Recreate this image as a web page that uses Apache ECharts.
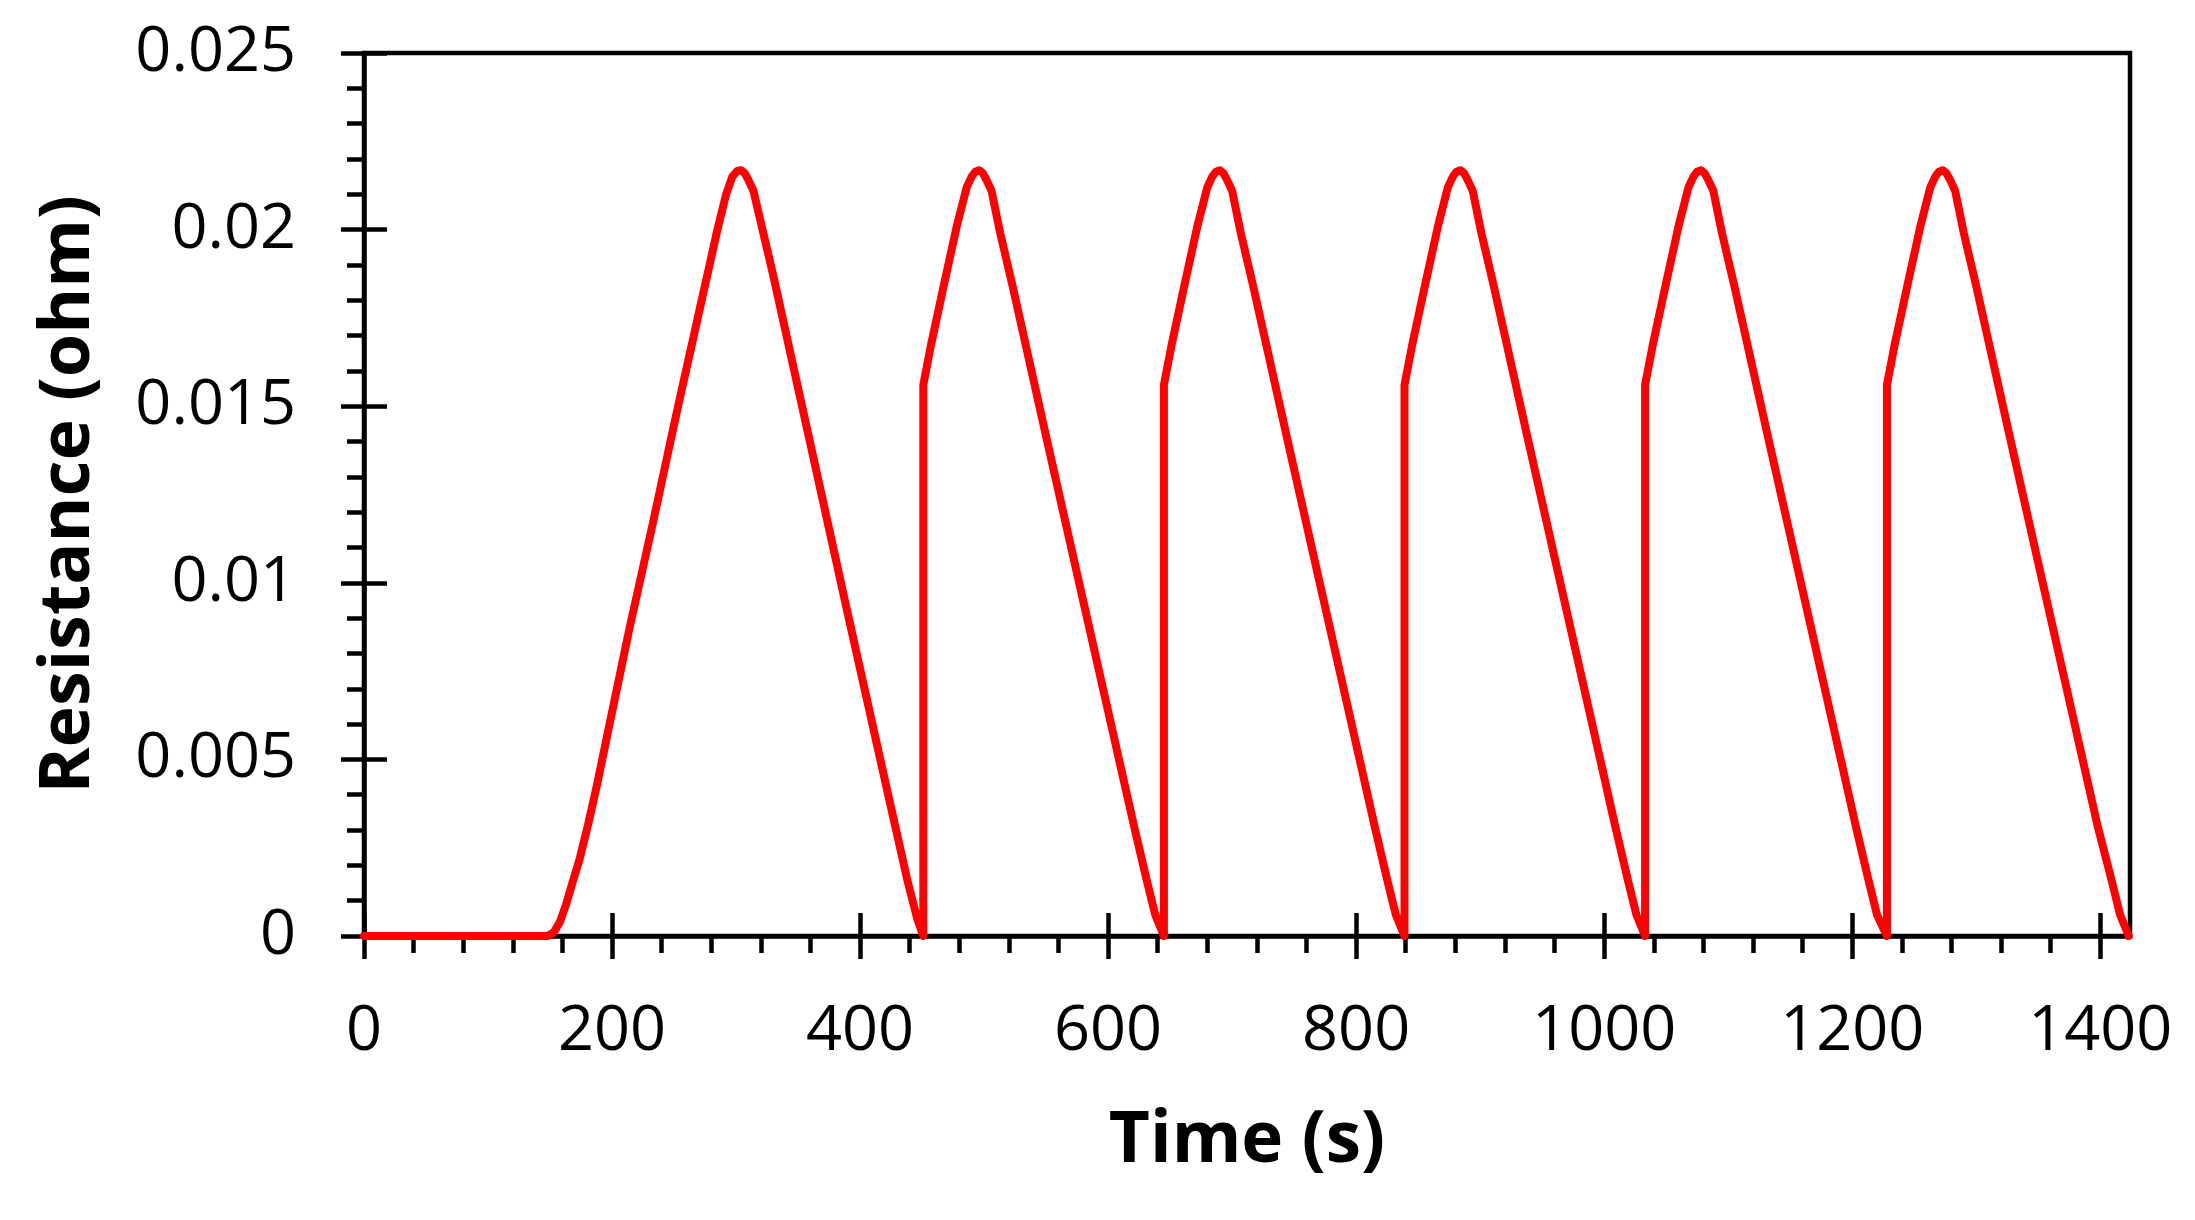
<!DOCTYPE html>
<html>
<head>
<meta charset="utf-8">
<script src="https://cdn.jsdelivr.net/npm/echarts@6/dist/echarts.min.js"></script>
<style>
  html, body { margin: 0; padding: 0; background: #fff; }
  #chart { width: 2195px; height: 1220px; }
</style>
</head>
<body>
<div id="chart"></div>
<script>
// time (s) / resistance (ohm), one block per heating cycle
const cycle1Time = [0, 148, 153, 158, 163, 168, 174, 181, 188, 198, 214, 233, 252, 271, 285, 292, 297, 301, 304, 307, 310, 314, 322, 330, 357, 389, 422, 438, 446, 451]
const cycle1Value = [0, 0, 0.0001, 0.0004, 0.0009, 0.0015, 0.0022, 0.0032, 0.0043, 0.006, 0.0087, 0.0117, 0.0148, 0.0178, 0.02, 0.021, 0.0215, 0.02166, 0.02168, 0.0216, 0.0214, 0.0211, 0.0199, 0.0187, 0.0144, 0.0093, 0.0041, 0.0016, 0.0005, 0]

const cycle2Time = [451, 457, 468, 478, 486, 490, 493, 496, 499, 502, 506, 513, 523, 549, 576, 603, 621, 631, 638, 645]
const cycle3Time = [645, 651, 662, 672, 680, 684, 687, 690, 693, 696, 700, 707, 717, 743, 770, 797, 815, 825, 832, 839]
const cycle4Time = [839, 845, 856, 866, 874, 878, 881, 884, 887, 890, 894, 901, 911, 937, 964, 991, 1009, 1019, 1026, 1033]
const cycle5Time = [1033, 1039, 1050, 1060, 1068, 1072, 1075, 1078, 1081, 1084, 1088, 1095, 1105, 1131, 1158, 1185, 1203, 1213, 1220, 1228]
const cycle6Time = [1228, 1234, 1245, 1255, 1263, 1267, 1270, 1273, 1276, 1279, 1283, 1290, 1300, 1326, 1353, 1380, 1398, 1409, 1416, 1423]

const cycle2Value = [0.0156, 0.0167, 0.0185, 0.0201, 0.0212, 0.0215, 0.02164, 0.02168, 0.0216, 0.0214, 0.0211, 0.0199, 0.0184, 0.0143, 0.0101, 0.0059, 0.0031, 0.0016, 0.0006, 0]
const cycle3Value = [0.0156, 0.0167, 0.0185, 0.0201, 0.0212, 0.0215, 0.02164, 0.02168, 0.0216, 0.0214, 0.0211, 0.0199, 0.0184, 0.0143, 0.0101, 0.0059, 0.0031, 0.0016, 0.0006, 0]
const cycle4Value = [0.0156, 0.0167, 0.0185, 0.0201, 0.0212, 0.0215, 0.02164, 0.02168, 0.0216, 0.0214, 0.0211, 0.0199, 0.0184, 0.0143, 0.0101, 0.0059, 0.0031, 0.0016, 0.0006, 0]
const cycle5Value = [0.0156, 0.0167, 0.0185, 0.0201, 0.0212, 0.0215, 0.02164, 0.02168, 0.0216, 0.0214, 0.0211, 0.0199, 0.0184, 0.0143, 0.0101, 0.0059, 0.0031, 0.0016, 0.0006, 0]
const cycle6Value = [0.0156, 0.0167, 0.0185, 0.0201, 0.0212, 0.0215, 0.02164, 0.02168, 0.0216, 0.0214, 0.0211, 0.0199, 0.0184, 0.0143, 0.0101, 0.0059, 0.0031, 0.0016, 0.0006, 0]

// axis ticks
const xMajor = [0, 200, 400, 600, 800, 1000, 1200, 1400]
const xMinor = [40, 80, 120, 160, 240, 280, 320, 360, 440, 480, 520, 560, 640, 680, 720, 760, 840, 880, 920, 960, 1040, 1080, 1120, 1160, 1240, 1280, 1320, 1360]
const yMajor = [0, 0.005, 0.01, 0.015, 0.02, 0.025]
const yMinor = [0.001, 0.002, 0.003, 0.004, 0.006, 0.007, 0.008, 0.009, 0.011, 0.012, 0.013, 0.014, 0.016, 0.017, 0.018, 0.019, 0.021, 0.022, 0.023, 0.024]

const X_MAX = 1424
const Y_MAX = 0.025

const cycles = [
  [cycle1Time, cycle1Value],
  [cycle2Time, cycle2Value],
  [cycle3Time, cycle3Value],
  [cycle4Time, cycle4Value],
  [cycle5Time, cycle5Value],
  [cycle6Time, cycle6Value]
]
const lineData = []
cycles.forEach(([t, v]) => {
  t.forEach((time, i) => lineData.push([time, v[i]]))
})

const font = 'Open Sans'
const plain = (v) => String(v)

// one axis per tick kind: major ticks cross the axis line, minor ticks sit outside
const xBase = {
  type: 'value', min: 0, max: X_MAX, position: 'bottom',
  splitLine: { show: false }, axisLine: { show: false },
  axisLabel: { show: false }, axisTick: { show: false }
}
const yBase = {
  type: 'value', min: 0, max: Y_MAX, position: 'left',
  splitLine: { show: false }, axisLine: { show: false },
  axisLabel: { show: false }, axisTick: { show: false }
}
const tickStyle = { color: '#000', width: 4.5 }

const chart = echarts.init(document.getElementById('chart'), null, { renderer: 'canvas' })
chart.setOption({
  animation: false,
  backgroundColor: '#fff',
  grid: {
    left: 364, right: 65, top: 53, bottom: 284,
    show: true, borderColor: '#000', borderWidth: 4.5,
    outerBoundsMode: 'none'
  },
  xAxis: [
    {
      ...xBase,
      axisLine: { show: true, onZero: false, lineStyle: { color: '#000', width: 4.5 } },
      axisTick: { show: true, customValues: xMajor, length: 23, lineStyle: tickStyle },
      axisLabel: { show: true, customValues: xMajor, formatter: plain, color: '#000', fontSize: 63, fontFamily: font, margin: 65 },
      name: 'Time (s)',
      nameLocation: 'middle',
      nameGap: 170,
      nameTextStyle: { color: '#000', fontSize: 71, fontWeight: 'bold', fontFamily: font }
    },
    {
      ...xBase,
      axisTick: { show: true, inside: true, customValues: xMajor, length: 23, lineStyle: tickStyle }
    },
    {
      ...xBase,
      axisTick: { show: true, customValues: xMinor, length: 17, lineStyle: tickStyle }
    }
  ],
  yAxis: [
    {
      ...yBase,
      axisLine: { show: true, onZero: false, lineStyle: { color: '#000', width: 4.5 } },
      axisTick: { show: true, customValues: yMajor, length: 23, lineStyle: tickStyle },
      axisLabel: { show: true, customValues: yMajor, formatter: plain, color: '#000', fontSize: 63, fontFamily: font, margin: 68 },
      name: 'Resistance (ohm)',
      nameLocation: 'middle',
      nameGap: 260,
      nameRotate: 90,
      nameTextStyle: { color: '#000', fontSize: 70, fontWeight: 'bold', fontFamily: font }
    },
    {
      ...yBase,
      axisTick: { show: true, inside: true, customValues: yMajor, length: 23, lineStyle: tickStyle }
    },
    {
      ...yBase,
      axisTick: { show: true, customValues: yMinor, length: 17, lineStyle: tickStyle }
    }
  ],
  series: [
    {
      name: 'Resistance',
      type: 'line',
      xAxisIndex: 0,
      yAxisIndex: 0,
      data: lineData,
      showSymbol: false,
      symbol: 'none',
      smooth: false,
      z: 5,
      lineStyle: { color: '#ff0000', width: 8, join: 'round', cap: 'round' }
    }
  ]
})
</script>
</body>
</html>
